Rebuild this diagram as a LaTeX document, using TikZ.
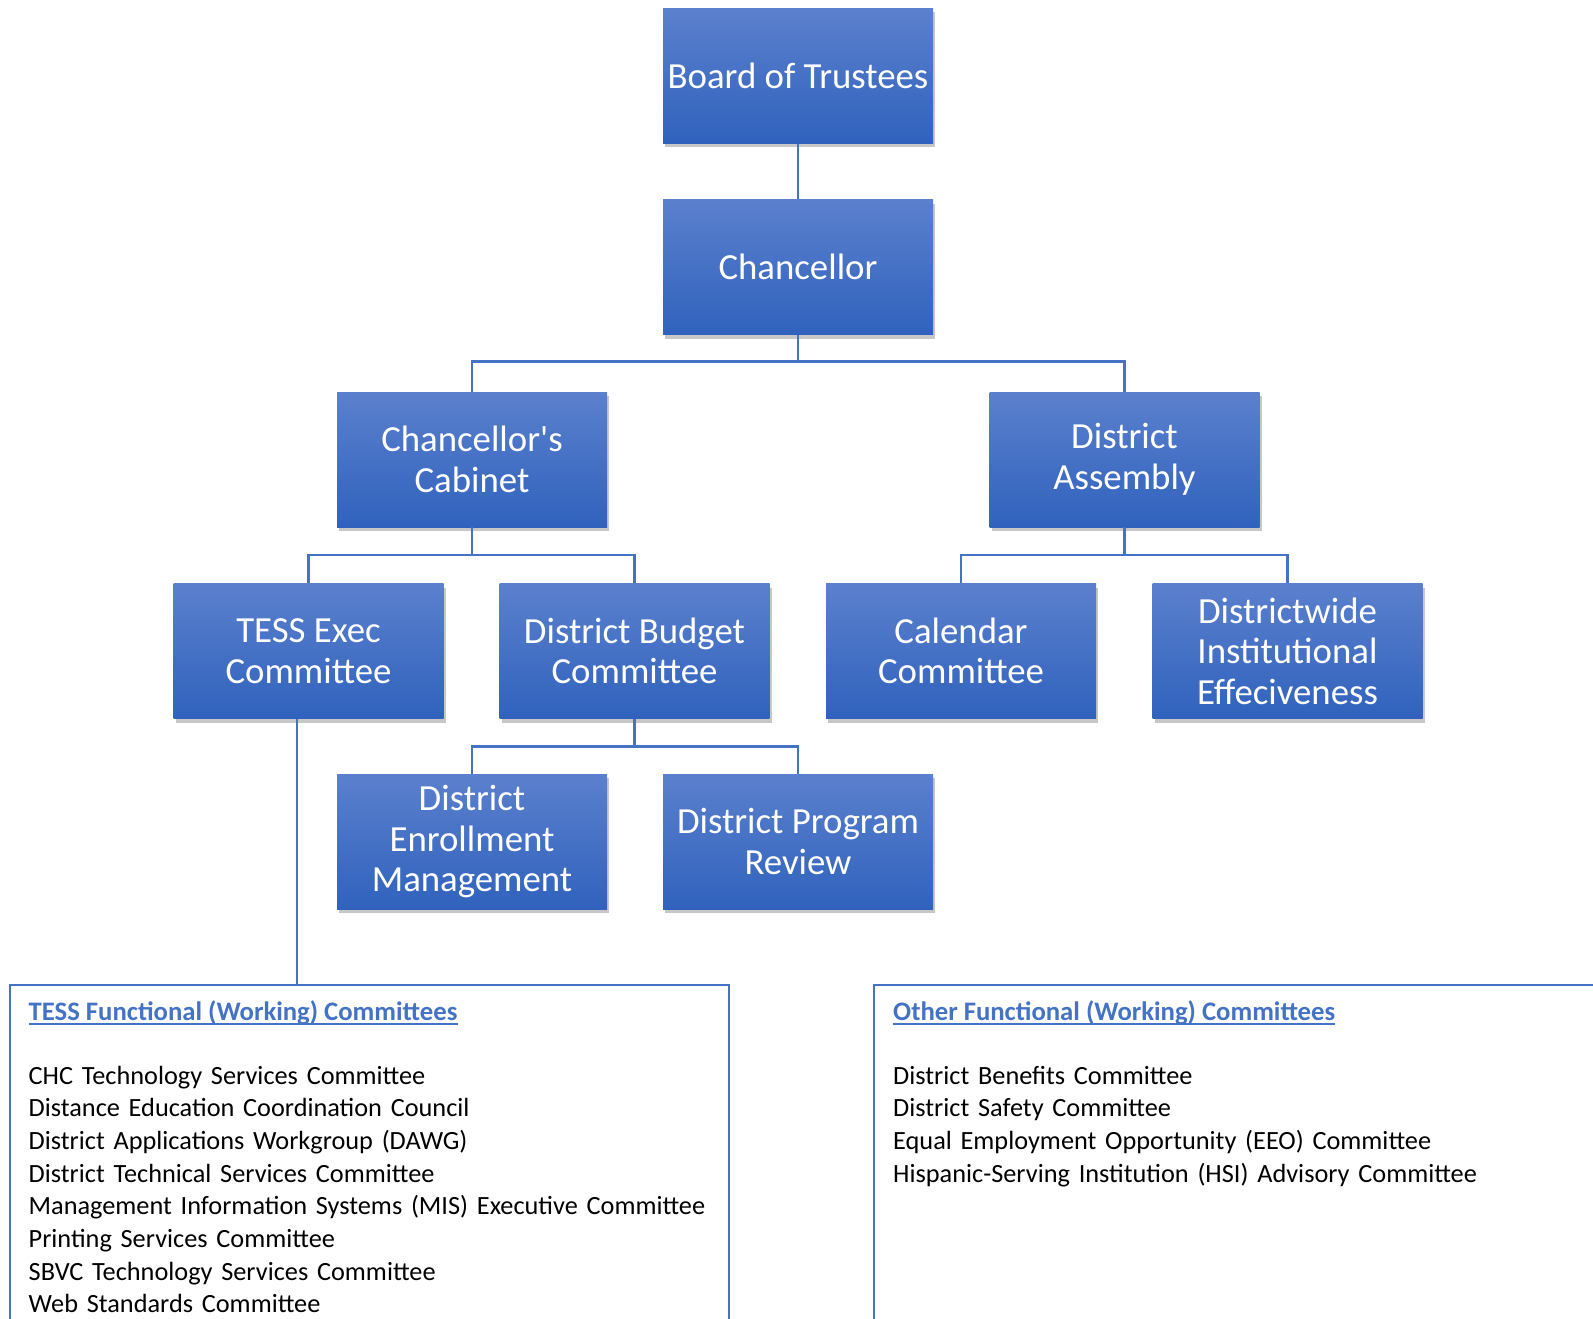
\documentclass[tikz,border=0pt]{standalone}
\usepackage{fontspec}
\setmainfont{Carlito}[Ligatures=TeXOff]
\usetikzlibrary{shadows,calc}
\definecolor{boxtop}{HTML}{5B80CD}
\definecolor{boxbot}{HTML}{3062BD}
\definecolor{linec}{HTML}{4472C4}
\tikzset{
  orgbox/.style={rectangle, minimum width=270pt, minimum height=135pt, inner sep=0pt,
    top color=boxtop, bottom color=boxbot, text=white, align=center,
    font=\fontsize{36.8}{40.6}\selectfont,
    drop shadow={shadow xshift=2pt, shadow yshift=-4pt, fill=black, opacity=0.22}},
  conn/.style={draw=linec, line width=2.5pt},
  listbox/.style={draw=linec, line width=2pt, rectangle, inner sep=0pt, anchor=north west,
    minimum width=719pt, minimum height=400pt},
  listtext/.style={anchor=base west, inner sep=0pt, text width=700pt, align=left,
    font=\fontsize{26.3}{32.7}\selectfont},
  listtitle/.style={anchor=base west, inner sep=0pt, text=linec,
    font=\fontsize{26.7}{32.7}\selectfont\bfseries},
  uline/.style={draw=linec, line width=2pt}
}
\begin{document}
\begin{tikzpicture}[x=1pt,y=-1pt]
\useasboundingbox (0,0) rectangle (1593,1319);
\clip (0,0) rectangle (1593,1319);
\node[orgbox] (board) at (798,76) {Board of Trustees};
\node[orgbox] (chanc) at (798,267) {Chancellor};
\node[orgbox] (cab) at (472,459.5) {Chancellor's\\Cabinet};
\node[orgbox] (asm) at (1124.5,459.5) {District\\Assembly};
\node[orgbox] (tess) at (308.5,651) {TESS Exec\\Committee};
\node[orgbox] (budget) at (634.5,651) {District Budget\\Committee};
\node[orgbox] (cal) at (961,651) {Calendar\\Committee};
\node[orgbox] (dwie) at (1287.5,651) {Districtwide\\Institutional\\Effeciveness};
\node[orgbox] (enr) at (472,841.5) {District\\Enrollment\\Management};
\node[orgbox] (prog) at (798,841.5) {District Program\\Review};

\node[listbox] (tessbox) at (9,984) {};
\node[listbox, minimum width=720pt] (otherbox) at (873,984) {};

\draw[conn] (board.south) -- (chanc.north);
\draw[conn] (chanc.south) -- ++(0,27) coordinate (b1) -| (cab.north);
\draw[conn] (b1) -| (asm.north);
\draw[conn] (cab.south) -- ++(0,28) coordinate (b2) -| (tess.north);
\draw[conn] (b2) -| (budget.north);
\draw[conn] (asm.south) -- ++(0,28) coordinate (b3) -| (cal.north);
\draw[conn] (b3) -| (dwie.north);
\draw[conn] (budget.south) -- ++(0,28) coordinate (b4) -| (enr.north);
\draw[conn] (b4) -| (prog.north);
\draw[conn] ([xshift=-11.5pt]tess.south) -- ([xshift=-11.5pt]tess.south |- tessbox.north);

\node[listtitle] (tesstitle) at (28.5,1020) {TESS Functional (Working) Committees};
\draw[uline] ([yshift=-4pt]tesstitle.base west) -- ([yshift=-4pt]tesstitle.base east);
\node[listtext] (tesslist) at (28.5,1084) {CHC Technology Services Committee\\
Distance Education Coordination Council\\
District Applications Workgroup (DAWG)\\
District Technical Services Committee\\
Management Information Systems (MIS) Executive Committee\\
Printing Services Committee\\
SBVC Technology Services Committee\\
Web Standards Committee};
\node[listtitle] (othertitle) at (893,1020) {Other Functional (Working) Committees};
\draw[uline] ([yshift=-4pt]othertitle.base west) -- ([yshift=-4pt]othertitle.base east);
\node[listtext] (otherlist) at (893,1084) {District Benefits Committee\\
District Safety Committee\\
Equal Employment Opportunity (EEO) Committee\\
Hispanic-Serving Institution (HSI) Advisory Committee};
\end{tikzpicture}
\end{document}
